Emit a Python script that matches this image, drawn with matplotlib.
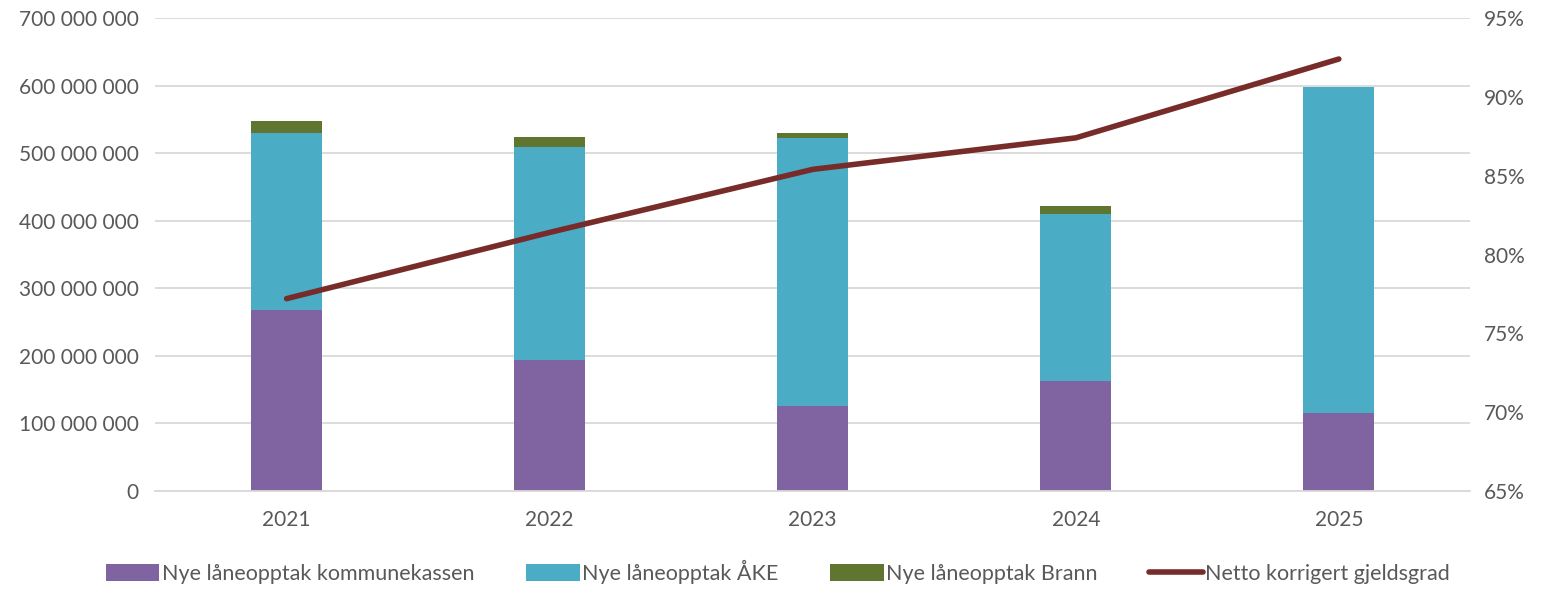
import matplotlib.pyplot as plt
import matplotlib.ticker as mticker
import numpy as np

plt.rcParams['font.family'] = ['Lato', 'DejaVu Sans']

# data
years = ['2021', '2022', '2023', '2024', '2025']
kommunekassen = [268e6, 194e6, 126e6, 163e6, 115e6]
ake = [262e6, 315e6, 396e6, 247e6, 483e6]
brann = [18e6, 15e6, 8e6, 12e6, 0]
gjeldsgrad = [77.2, 81.4, 85.4, 87.4, 92.4]

c_purple = '#8064A2'
c_cyan = '#4BACC6'
c_green = '#5F7530'
c_line = '#772C2A'
txt = '#595959'

fig = plt.figure(figsize=(15.46, 5.89), dpi=100)
ax = fig.add_axes([0.1003, 0.1664, 0.8508, 0.8030])
x = np.arange(len(years))
w = 0.27
b1 = ax.bar(x, kommunekassen, w, color=c_purple, label='Nye låneopptak kommunekassen', zorder=2)
bottom2 = np.array(kommunekassen)
b2 = ax.bar(x, ake, w, bottom=bottom2, color=c_cyan, label='Nye låneopptak ÅKE', zorder=2)
bottom3 = bottom2 + np.array(ake)
b3 = ax.bar(x, brann, w, bottom=bottom3, color=c_green, label='Nye låneopptak Brann', zorder=2)

ax.set_ylim(0, 700e6)
ax.set_xlim(-0.5, len(years) - 0.5)
ax.set_yticks(np.arange(0, 700e6 + 1, 100e6))
ax.yaxis.set_major_formatter(mticker.FuncFormatter(lambda v, p: f'{int(v):,}'.replace(',', ' ')))
ax.set_xticks(x)
ax.set_xticklabels(years)
ax.grid(axis='y', color='#D9D9D9', linewidth=1.3, zorder=0)
ax.set_axisbelow(True)
for s in ['top', 'right', 'left']:
    ax.spines[s].set_visible(False)
ax.spines['bottom'].set_color('#D9D9D9')
ax.spines['bottom'].set_linewidth(1.3)
ax.tick_params(axis='y', length=0, labelsize=15, colors=txt, pad=12)
ax.tick_params(axis='x', length=0, labelsize=15, colors=txt, pad=14)

ax2 = ax.twinx()
ln, = ax2.plot(x, gjeldsgrad, color=c_line, linewidth=4, solid_capstyle='round',
               label='Netto korrigert gjeldsgrad', zorder=3)
ax2.set_ylim(65, 95)
ax2.set_yticks(np.arange(65, 96, 5))
ax2.yaxis.set_major_formatter(mticker.FuncFormatter(lambda v, p: f'{int(v)}%'))
for s in ax2.spines.values():
    s.set_visible(False)
ax2.tick_params(axis='y', length=0, labelsize=15, colors=txt, pad=10)

fig.legend(handles=[b1, b2, b3, ln], loc='lower center', bbox_to_anchor=(0.503, -0.025),
           ncol=4, frameon=False, fontsize=15.5, labelcolor=txt,
           handlelength=2.5, handleheight=0.85, handletextpad=0.1, columnspacing=2.4)

plt.savefig('out.png', dpi=100)
